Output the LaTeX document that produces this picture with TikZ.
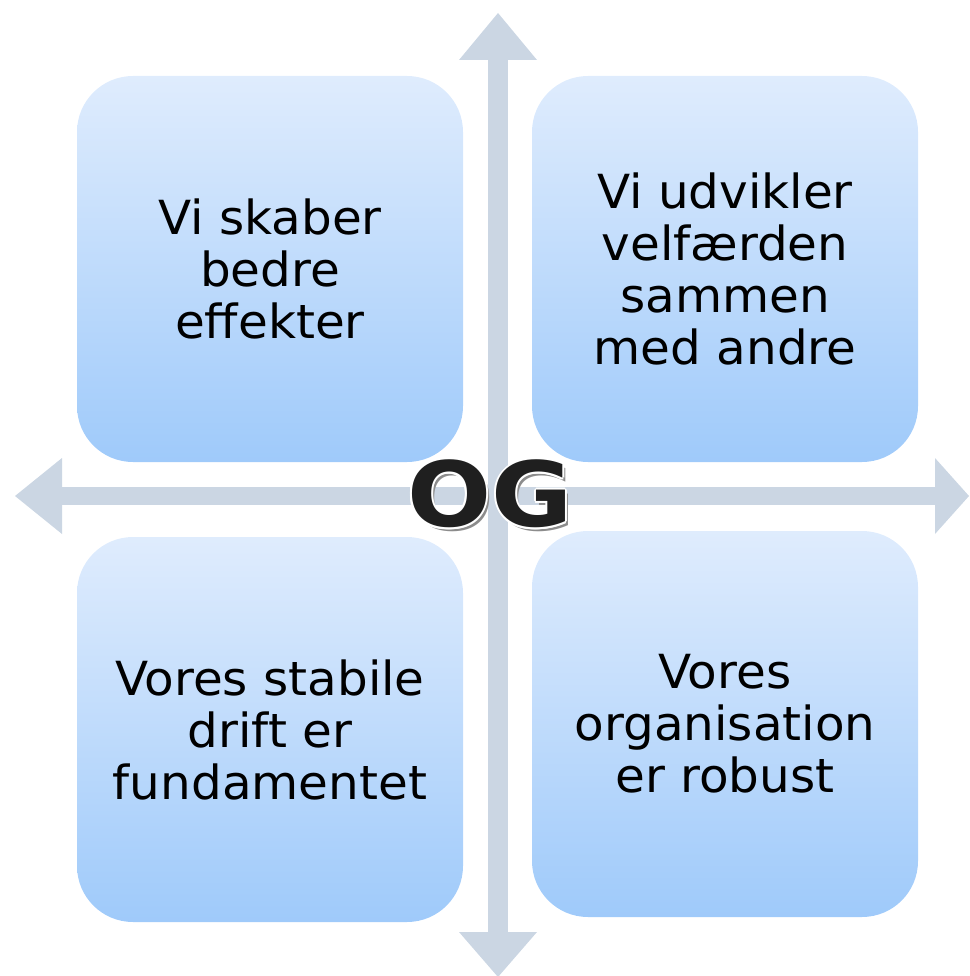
\documentclass[tikz,border=0pt]{standalone}
\usepackage{fontspec}
\setmainfont{DejaVu Sans}[FakeStretch=1.03]
\newfontfamily\ogfam{DejaVu Sans Bold}[FakeStretch=1.1]
\definecolor{arrowc}{HTML}{CBD6E3}
\definecolor{boxtop}{HTML}{DFECFD}
\definecolor{boxbot}{HTML}{9FCAFA}
\definecolor{ogshadow}{HTML}{8C8C8C}
\begin{document}
\begin{tikzpicture}[x=1pt,y=-1pt,
  quad/.style={rounded corners=56pt, top color=boxtop, bottom color=boxbot, draw=none,
    minimum width=386pt, inner sep=0pt, align=center,
    font=\fontsize{47}{52}\selectfont, text=black},
  ogtext/.style={font=\ogfam\fontsize{90}{90}\selectfont, inner sep=0pt}
]
\useasboundingbox (0,0) rectangle (969,976);
% axes
\fill[arrowc] (488,60) rectangle (508,932);
\fill[arrowc] (459,60) -- (498,13) -- (537,60) -- cycle;
\fill[arrowc] (459,932) -- (498,977) -- (537,932) -- cycle;
\fill[arrowc] (62,487) rectangle (935,505);
\fill[arrowc] (62,458) -- (15,496) -- (62,534) -- cycle;
\fill[arrowc] (935,458) -- (969,496) -- (935,534) -- cycle;
% boxes
\node[quad, minimum height=386pt] (tl) at (270,269) {Vi skaber\\bedre\\effekter};
\node[quad, minimum height=386pt] (tr) at (725,269) {Vi udvikler\\velfærden\\sammen\\med andre};
\node[quad, minimum height=385pt] (bl) at (270,729.5) {Vores stabile\\drift er\\fundamentet};
\node[quad, minimum height=386pt] (br) at (725,724) {Vores\\organisation\\er robust};
% OG
\node[ogtext, text=ogshadow] (ogs) at (493,497.5) {OG};
\foreach \dx/\dy in {2/0,-2/0,0/2,0/-2,1.4/1.4,-1.4/1.4,1.4/-1.4,-1.4/-1.4}
  \node[ogtext, text=white] at (490+\dx,494+\dy) {OG};
\node[ogtext, text=black!88] (og) at (490,494) {OG};
\end{tikzpicture}
\end{document}
